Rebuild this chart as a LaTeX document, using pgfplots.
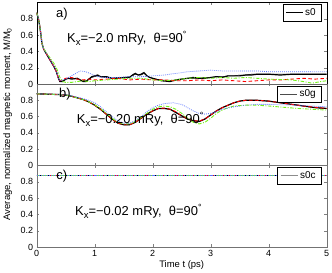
\documentclass[border=0pt]{standalone}
\usepackage{pgfplots}
\pgfplotsset{compat=1.18}
\usepackage{fontspec}
\setmainfont{Liberation Sans}
\definecolor{mgreen}{rgb}{0.45,0.95,0.1}
\definecolor{mblue}{rgb}{0.35,0.45,1}
\tikzset{
 s0/.style={color=black, draw=black, line width=0.5pt},
 s0g/.style={color=black!70, draw=black!70, line width=0.6pt},
 s0c/.style={color=black!45, draw=black!45, line width=1.1pt},
 s1/.style={color=black, draw=black, line width=1.2pt},
 s2/.style={color=red, draw=red, line width=0.9pt, dash pattern=on 3.5pt off 2.5pt},
 s3/.style={color=mgreen, draw=mgreen, line width=0.9pt, dash pattern=on 3.5pt off 1.5pt on 1pt off 1.5pt},
 s4/.style={color=mblue, draw=mblue, line width=0.8pt, dash pattern=on 0.8pt off 1.2pt},
}
\pgfplotsset{
 panel/.style={
  width=290bp, height=81.5bp, scale only axis, anchor=south west,
  xmin=0, xmax=5, ymin=0, ymax=1,
  xtick={0,1,2,3,4,5}, xticklabels={},
  ytick={0,0.2,0.4,0.6,0.8}, yticklabels={0,0.2,0.4,0.6,0.8},
  tick align=inside, major tick length=2.5bp,
  tick label style={font=\fontsize{9}{10}\selectfont},
 },
}
% legend box and rows, drawn inside an axis in rel axis cs
\newcommand{\legbox}{\draw[draw=black!70, fill=white, line width=0.5pt] (rel axis cs:0.75,0.96933) rectangle (rel axis cs:0.98966,0.10429);}
\newcommand{\legrow}[3]{\draw[#2] (rel axis cs:0.75862,#1) -- (rel axis cs:0.82414,#1);
 \node[anchor=west, inner sep=0pt, font=\fontsize{10}{11}\selectfont] at (rel axis cs:0.82931,#1) {#3};}
\newcommand{\legend}[1]{\legbox
 \legrow{0.88282}{#1}{α=0.0000}
 \legrow{0.70982}{s1}{α=0.0001}
 \legrow{0.53681}{s2}{α=0.0010}
 \legrow{0.36380}{s3}{α=0.0100}
 \legrow{0.19080}{s4}{α=0.1000}}
\newcommand{\ann}{\fontsize{13}{15}\selectfont}
\newcommand{\sbx}{\raisebox{-0.45ex}{\fontsize{9.5}{10}\selectfont x}}
\newcommand{\dg}{\raisebox{0.75ex}{\fontsize{9}{10}\selectfont °}}
\begin{document}
\begin{tikzpicture}
\useasboundingbox (-36.7bp,-26bp) rectangle (295.3bp,247bp);
% ---------- panel a
\begin{axis}[panel, at={(0bp,163bp)}, axis line style={black}]
\addplot[s0] coordinates {(0,0.875)(0.03,0.8)(0.05,0.72)(0.07,0.62)(0.09,0.5)(0.12,0.43)(0.15,0.39)(0.2,0.33)(0.25,0.27)(0.3,0.21)(0.34,0.15)(0.37,0.08)(0.4,0.03)(0.45,0.04)(0.5,0.06)(0.55,0.07)(0.6,0.07)(0.7,0.06)(0.8,0.04)(0.85,0.04)(0.9,0.06)(0.95,0.08)(1.0,0.09)(1.05,0.1)(1.1,0.09)(1.2,0.08)(1.3,0.07)(1.4,0.08)(1.5,0.08)(1.6,0.09)(1.65,0.1)(1.7,0.12)(1.75,0.11)(1.8,0.11)(1.85,0.13)(1.9,0.1)(1.95,0.08)(2.05,0.06)(2.15,0.05)(2.3,0.04)(2.4,0.05)(2.5,0.06)(2.6,0.07)(2.7,0.07)(2.8,0.07)(2.9,0.08)(3.0,0.08)(3.1,0.09)(3.2,0.09)(3.3,0.1)(3.4,0.1)(3.5,0.11)(3.6,0.11)(3.7,0.12)(3.8,0.12)(4.0,0.12)(4.2,0.12)(4.4,0.12)(4.6,0.12)(4.8,0.12)(5.0,0.12)};
\addplot[s1] coordinates {(0,0.875)(0.03,0.8)(0.05,0.72)(0.07,0.62)(0.09,0.5)(0.12,0.43)(0.15,0.39)(0.2,0.33)(0.25,0.27)(0.3,0.21)(0.34,0.15)(0.37,0.08)(0.4,0.03)(0.45,0.03)(0.5,0.06)(0.55,0.07)(0.6,0.06)(0.7,0.07)(0.8,0.03)(0.85,0.03)(0.9,0.06)(0.95,0.09)(1.0,0.1)(1.05,0.11)(1.1,0.09)(1.2,0.09)(1.3,0.07)(1.4,0.07)(1.5,0.08)(1.6,0.08)(1.65,0.11)(1.7,0.13)(1.75,0.11)(1.8,0.12)(1.85,0.14)(1.9,0.1)(1.95,0.08)(2.05,0.06)(2.15,0.04)(2.3,0.03)(2.4,0.05)(2.5,0.06)(2.6,0.07)(2.7,0.08)(2.8,0.07)(2.9,0.07)(3.0,0.08)(3.1,0.09)(3.2,0.08)(3.3,0.1)(3.4,0.1)(3.5,0.1)(3.6,0.11)(3.7,0.11)(3.8,0.12)(4.0,0.12)(4.2,0.11)(4.4,0.12)(4.6,0.12)(4.8,0.12)(5.0,0.12)};
\addplot[s2] coordinates {(0,0.875)(0.03,0.8)(0.05,0.72)(0.07,0.62)(0.09,0.5)(0.12,0.43)(0.15,0.39)(0.2,0.33)(0.25,0.27)(0.3,0.21)(0.34,0.15)(0.37,0.08)(0.4,0.04)(0.5,0.07)(0.6,0.08)(0.7,0.06)(0.8,0.05)(0.9,0.06)(1.0,0.05)(1.2,0.06)(1.4,0.07)(1.6,0.05)(1.8,0.06)(2.0,0.05)(2.2,0.05)(2.4,0.04)(2.6,0.04)(2.8,0.05)(3.0,0.04)(3.2,0.05)(3.4,0.04)(3.6,0.03)(3.8,0.04)(4.0,0.05)(4.2,0.05)(4.4,0.06)(4.6,0.07)(4.8,0.06)(5.0,0.07)};
\addplot[s3] coordinates {(0,0.875)(0.03,0.8)(0.05,0.72)(0.07,0.62)(0.09,0.5)(0.12,0.44)(0.15,0.4)(0.2,0.35)(0.25,0.3)(0.3,0.25)(0.35,0.18)(0.4,0.08)(0.45,0.03)(0.5,0.02)(0.6,0.02)(0.7,0.03)(0.8,0.04)(0.9,0.03)(1.0,0.04)(1.2,0.05)(1.4,0.06)(1.6,0.07)(1.8,0.07)(2.0,0.05)(2.2,0.04)(2.4,0.05)(2.6,0.07)(2.8,0.08)(3.0,0.07)(3.2,0.08)(3.4,0.07)(3.6,0.08)(3.8,0.07)(4.0,0.06)(4.4,0.05)(4.6,0.03)(4.75,0.01)(4.9,0.03)(5.0,0.04)};
\addplot[s4] coordinates {(0,0.875)(0.03,0.8)(0.05,0.72)(0.07,0.62)(0.09,0.5)(0.12,0.43)(0.15,0.39)(0.2,0.33)(0.25,0.27)(0.3,0.21)(0.34,0.15)(0.37,0.08)(0.4,0.04)(0.5,0.06)(0.6,0.1)(0.7,0.14)(0.75,0.16)(0.85,0.15)(0.95,0.12)(1.05,0.09)(1.2,0.08)(1.4,0.08)(1.6,0.09)(1.8,0.09)(2.0,0.1)(2.2,0.11)(2.4,0.13)(2.6,0.15)(2.8,0.16)(3.0,0.17)(3.2,0.16)(3.4,0.16)(3.6,0.16)(3.8,0.16)(4.0,0.15)(4.5,0.15)(5.0,0.15)};
\legend{s0}
\end{axis}
% ---------- panel b
\begin{axis}[panel, at={(0bp,81.5bp)}, axis line style={black!60}]
\addplot[s0g] coordinates {(0,0.88)(0.2,0.875)(0.4,0.87)(0.5,0.865)(0.6,0.85)(0.7,0.83)(0.8,0.81)(0.9,0.78)(1.0,0.74)(1.1,0.69)(1.2,0.63)(1.3,0.57)(1.4,0.52)(1.5,0.5)(1.6,0.5)(1.7,0.53)(1.8,0.58)(1.9,0.63)(2.0,0.67)(2.1,0.7)(2.2,0.7)(2.3,0.69)(2.4,0.65)(2.5,0.61)(2.6,0.57)(2.7,0.55)(2.8,0.54)(2.9,0.57)(3.0,0.62)(3.1,0.67)(3.2,0.71)(3.3,0.74)(3.4,0.77)(3.5,0.79)(3.6,0.8)(3.7,0.8)(3.8,0.8)(4.0,0.79)(4.2,0.77)(4.4,0.75)(4.6,0.73)(4.8,0.71)(5.0,0.7)};
\addplot[s1] coordinates {(0,0.88)(0.2,0.875)(0.4,0.87)(0.5,0.865)(0.6,0.85)(0.7,0.83)(0.8,0.81)(0.9,0.78)(1.0,0.74)(1.1,0.69)(1.2,0.63)(1.3,0.57)(1.4,0.52)(1.5,0.5)(1.6,0.5)(1.7,0.53)(1.8,0.58)(1.9,0.63)(2.0,0.67)(2.1,0.7)(2.2,0.7)(2.3,0.69)(2.4,0.65)(2.5,0.61)(2.6,0.57)(2.7,0.55)(2.8,0.54)(2.9,0.57)(3.0,0.62)(3.1,0.67)(3.2,0.71)(3.3,0.74)(3.4,0.77)(3.5,0.79)(3.6,0.8)(3.7,0.8)(3.8,0.8)(4.0,0.79)(4.2,0.77)(4.4,0.75)(4.6,0.73)(4.8,0.71)(5.0,0.7)};
\addplot[s2] coordinates {(0,0.88)(0.2,0.875)(0.4,0.87)(0.5,0.865)(0.6,0.85)(0.7,0.83)(0.8,0.81)(0.9,0.78)(1.0,0.74)(1.1,0.69)(1.2,0.63)(1.3,0.57)(1.4,0.52)(1.5,0.5)(1.6,0.5)(1.7,0.53)(1.8,0.58)(1.9,0.63)(2.0,0.67)(2.1,0.7)(2.2,0.705)(2.3,0.69)(2.4,0.66)(2.5,0.61)(2.6,0.57)(2.7,0.55)(2.8,0.545)(2.9,0.57)(3.0,0.62)(3.1,0.67)(3.2,0.71)(3.3,0.74)(3.4,0.77)(3.5,0.79)(3.6,0.8)(3.7,0.8)(3.8,0.8)(4.0,0.79)(4.2,0.77)(4.4,0.75)(4.6,0.73)(4.8,0.715)(5.0,0.7)};
\addplot[s3] coordinates {(0,0.88)(0.2,0.875)(0.4,0.87)(0.5,0.865)(0.6,0.85)(0.7,0.83)(0.8,0.81)(0.9,0.78)(1.0,0.745)(1.1,0.7)(1.2,0.64)(1.3,0.58)(1.4,0.53)(1.5,0.51)(1.6,0.51)(1.7,0.54)(1.8,0.59)(1.9,0.64)(2.0,0.69)(2.1,0.72)(2.2,0.73)(2.3,0.72)(2.4,0.69)(2.5,0.64)(2.6,0.58)(2.7,0.53)(2.8,0.51)(2.9,0.53)(3.0,0.58)(3.1,0.64)(3.2,0.68)(3.3,0.71)(3.4,0.73)(3.6,0.74)(3.8,0.74)(4.0,0.73)(4.5,0.7)(5.0,0.68)};
\addplot[s4] coordinates {(0,0.88)(0.5,0.87)(0.7,0.84)(0.9,0.8)(1.0,0.77)(1.1,0.72)(1.2,0.66)(1.3,0.6)(1.4,0.55)(1.5,0.52)(1.6,0.52)(1.7,0.55)(1.8,0.6)(1.9,0.66)(2.0,0.71)(2.1,0.74)(2.2,0.76)(2.35,0.77)(2.5,0.75)(2.6,0.71)(2.7,0.67)(2.8,0.64)(2.9,0.63)(3.0,0.64)(3.1,0.66)(3.2,0.69)(3.4,0.72)(3.6,0.74)(3.8,0.75)(4.0,0.75)(4.5,0.74)(5.0,0.72)};
\legend{s0g}
\end{axis}
% ---------- panel c
\begin{axis}[panel, at={(0bp,0bp)}, axis line style={black!55},
  xticklabels={0,1,2,3,4,5},
  xlabel={Time t (ps)}, xlabel style={font=\fontsize{9.5}{11}\selectfont, yshift=3bp}]
\addplot[s0c] coordinates {(0,0.875)(1,0.875)(2,0.875)(3,0.875)(4,0.875)(5,0.875)};
\addplot[s1] coordinates {(0,0.875)(1,0.875)(2,0.875)(3,0.875)(4,0.875)(5,0.875)};
\addplot[s2] coordinates {(0,0.875)(1,0.875)(2,0.875)(3,0.875)(4,0.875)(5,0.875)};
\addplot[s3] coordinates {(0,0.875)(1,0.875)(2,0.875)(3,0.875)(4,0.875)(5,0.875)};
\addplot[s4] coordinates {(0,0.875)(1,0.875)(2,0.875)(3,0.875)(4,0.875)(5,0.875)};
\legend{s0c}
\end{axis}
% ---------- annotations
\node[font=\ann] at (25.3bp,233bp) {a)};
\node[font=\ann, anchor=west, inner sep=0pt] at (30.3bp,209bp) {K\sbx=−2.0 mRy,\ \ θ=90\dg};
\node[font=\ann] at (28.3bp,153bp) {b)};
\node[font=\ann, anchor=west, inner sep=0pt] at (40bp,128bp) {K\sbx=−0.20 mRy,\ \ θ=90\dg};
\node[font=\ann] at (25bp,71bp) {c)};
\node[font=\ann, anchor=west, inner sep=0pt] at (38.3bp,35.3bp) {K\sbx=−0.02 mRy,\ \ θ=90\dg};
\node[font=\fontsize{9.5}{11}\selectfont, rotate=90] at (-29bp,123bp) {Average, normalized magnetic moment, M/M\textsubscript{0}};
\end{tikzpicture}
\end{document}
